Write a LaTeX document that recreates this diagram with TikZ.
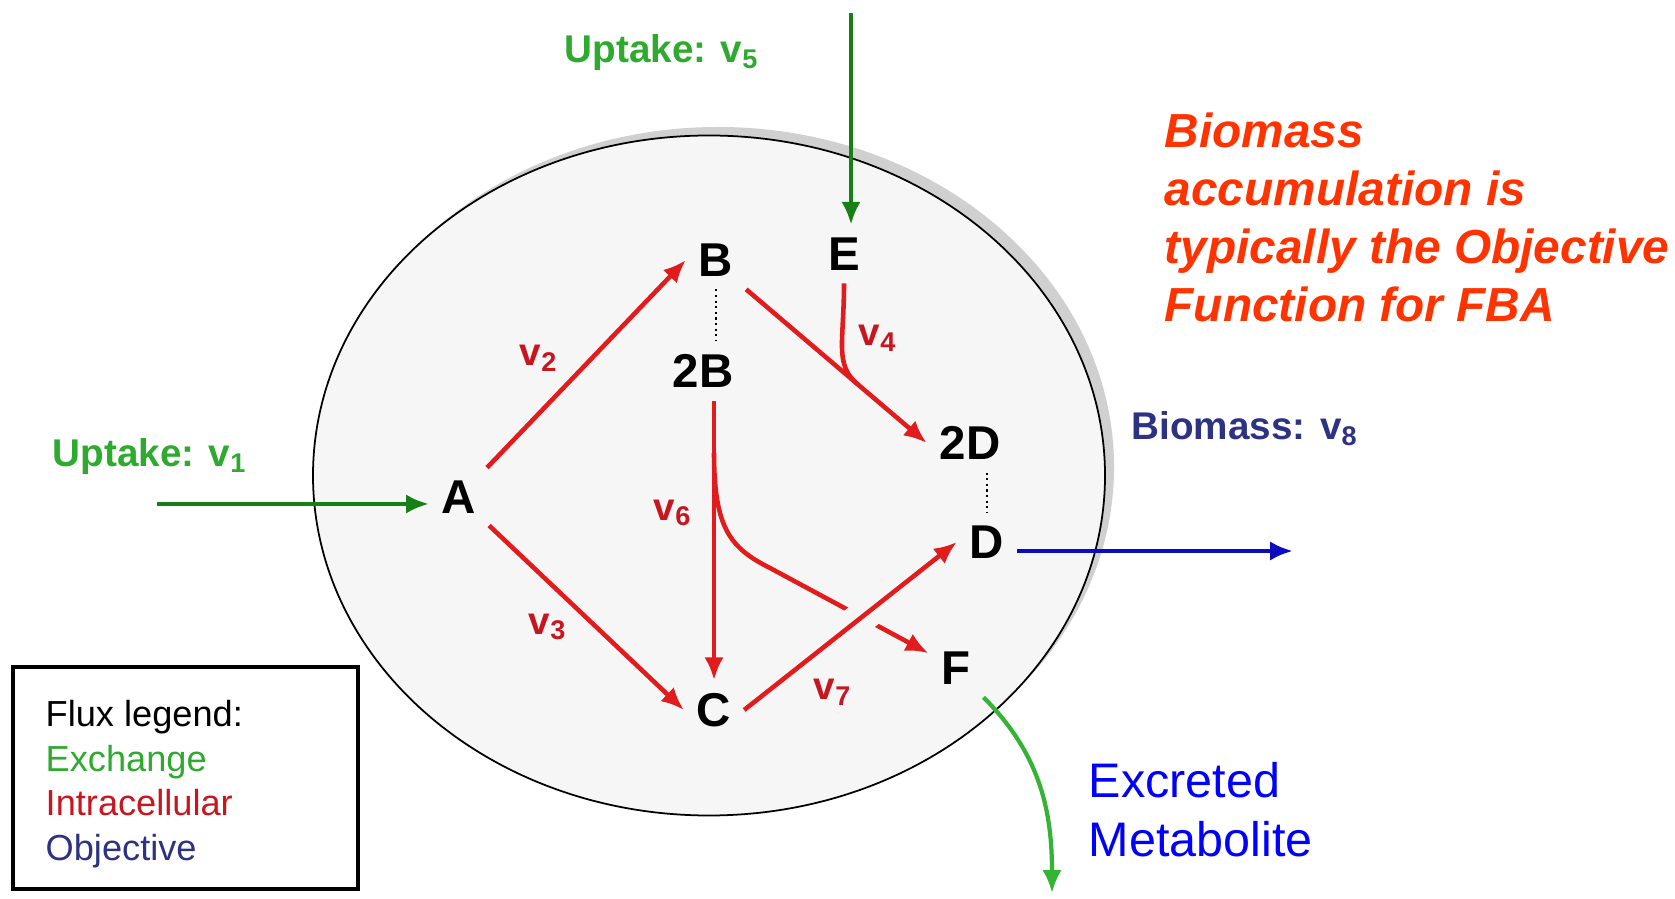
\documentclass[tikz,border=0pt]{standalone}
\usepackage{fontspec}
\setmainfont{Liberation Sans}
\usepackage{xcolor}
\usepackage{tikz}
\usetikzlibrary{calc, arrows.meta, positioning}

\definecolor{fluxred}{RGB}{226,28,28}
\definecolor{labred}{RGB}{200,22,32}
\definecolor{upgreen}{RGB}{46,170,46}
\definecolor{exgreen}{RGB}{22,128,22}
\definecolor{outgreen}{RGB}{52,180,52}
\definecolor{objnavy}{RGB}{45,50,130}
\definecolor{objblue}{RGB}{12,12,190}
\definecolor{metblue}{RGB}{0,0,255}
\definecolor{noteorange}{RGB}{255,51,0}
\definecolor{cellfill}{RGB}{246,246,246}
\definecolor{cellshade}{RGB}{208,208,208}

\tikzset{
  met/.style={font=\fontsize{13.5}{16}\selectfont\bfseries, inner sep=3.5pt},
  flux/.style={->, fluxred, line width=1.3pt},
  vlab/.style={font=\fontsize{11}{13}\selectfont\bfseries, text=labred, inner sep=1pt},
  exch/.style={->, exgreen, line width=1.2pt},
  uplab/.style={font=\fontsize{11}{13}\selectfont\bfseries, text=upgreen, inner sep=1pt},
  pool/.style={densely dotted, black, line width=0.6pt},
  bridge/.style={cellfill, line width=9pt, shorten <=0.6cm, shorten >=0.6cm},
  legline/.style={anchor=base west, inner sep=0, font=\fontsize{10.3}{12.7}\selectfont}
}

\begin{document}
\begin{tikzpicture}[>={Latex[length=6.5pt,width=5.5pt]}]
    \useasboundingbox (0,0) rectangle (16.75,8.98);

    % 1. Tế bào: hình elip có bóng xám
    \fill[cellshade] (7.18,4.31) ellipse [x radius=3.96, y radius=3.40];
    \filldraw[fill=cellfill, draw=black, line width=0.5pt] (7.09,4.225) ellipse [x radius=3.96, y radius=3.40];

    % 2. Các chất chuyển hóa
    \node[met] (nA)  at (4.59,4.01) {A};
    \node[met] (nB)  at (7.16,6.38) {B};
    \node[met] (n2B) at (7.03,5.27) {2B};
    \node[met] (nE)  at (8.44,6.44) {E};
    \node[met] (n2D) at (9.70,4.55) {2D};
    \node[met] (nD)  at (9.87,3.56) {D};
    \node[met] (nC)  at (7.14,1.88) {C};
    \node[met] (nF)  at (9.56,2.30) {F};

    % Đường chấm nối B -- 2B và 2D -- D
    \draw[pool] (nB.south) -- (nB.south |- n2B.north);
    \draw[pool] (n2D.south -| nD) -- (nD.north);

    % 3. Các dòng nội bào (màu đỏ)
    \draw[flux] (nA) -- (nB.west);
    \draw[flux] (nA) -- (nC.west);
    \draw[flux] (nB.south east) -- (n2D.west);
    \coordinate (j4) at ($(nB.south east)!0.62!(n2D.west)$);
    \draw[fluxred, line width=1.3pt] (nE.south) .. controls +(0,-0.6) and +(-0.24,0.2) .. (j4);
    \draw[flux] (nC |- n2B.south) -- (nC);
    \coordinate (j6) at (7.14,4.45);
    \draw[flux] (j6) .. controls +(0,-0.75) and +(-0.4,0.2) .. (7.7,3.3) -- (nF);
    \draw[bridge] (nC.east) -- (nD.west);
    \draw[flux] (nC.east) -- (nD.west);

    % Nhãn v2 ... v7
    \node[vlab] (l2) at (5.39,5.40) {v\textsubscript{2}};
    \node[vlab] (l3) at (5.48,2.71) {v\textsubscript{3}};
    \node[vlab] (l4) at (8.78,5.60) {v\textsubscript{4}};
    \node[vlab] (l6) at (6.73,3.85) {v\textsubscript{6}};
    \node[vlab] (l7) at (8.33,2.06) {v\textsubscript{7}};

    % 4. Các dòng trao đổi (màu xanh lá)
    \coordinate (u1) at (1.57,3.94);
    \draw[exch] (u1) -- (u1 -| nA.west);
    \node[uplab] (t1) at (1.50,4.41) {Uptake: v\textsubscript{1}};
    \coordinate (u5) at (8.51,8.85);
    \draw[exch] (u5) -- (u5 |- nE.north);
    \node[uplab] (t5) at (6.62,8.45) {Uptake: v\textsubscript{5}};
    \coordinate (x9) at (10.52,0.05);
    \draw[->, outgreen, line width=1.2pt] (nF.south east) to[out=-45, in=90] (x9);
    \node[anchor=west, align=left, inner sep=0, text=metblue,
          font=\fontsize{13.8}{16.8}\selectfont] (tx) at (10.88,0.885) {Excreted\\Metabolite};

    % 5. Dòng sinh khối (hàm mục tiêu)
    \coordinate (o8) at (12.93,3.47);
    \draw[->, objblue, line width=1.3pt] (o8 -| nD.east) -- (o8);
    \node[uplab, text=objnavy] (t8) at (12.45,4.69) {Biomass: v\textsubscript{8}};

    % 6. Ghi chú
    \node[anchor=west, align=left, inner sep=0, text=noteorange,
          font=\fontsize{13.6}{16.5}\selectfont\bfseries\itshape] (note) at (11.64,6.81)
          {Biomass\\accumulation is\\typically the Objective\\Function for FBA};

    % 7. Chú giải
    \draw[line width=0.9pt] (0.13,0.09) rectangle (3.58,2.31);
    \node[legline] (lgT) at (0.45,1.71) {Flux legend:};
    \node[legline, text=upgreen] (lgX) at (0.45,1.265) {Exchange};
    \node[legline, text=labred] (lgI) at (0.45,0.82) {Intracellular};
    \node[legline, text=objnavy] (lgO) at (0.45,0.375) {Objective};
\end{tikzpicture}
\end{document}
